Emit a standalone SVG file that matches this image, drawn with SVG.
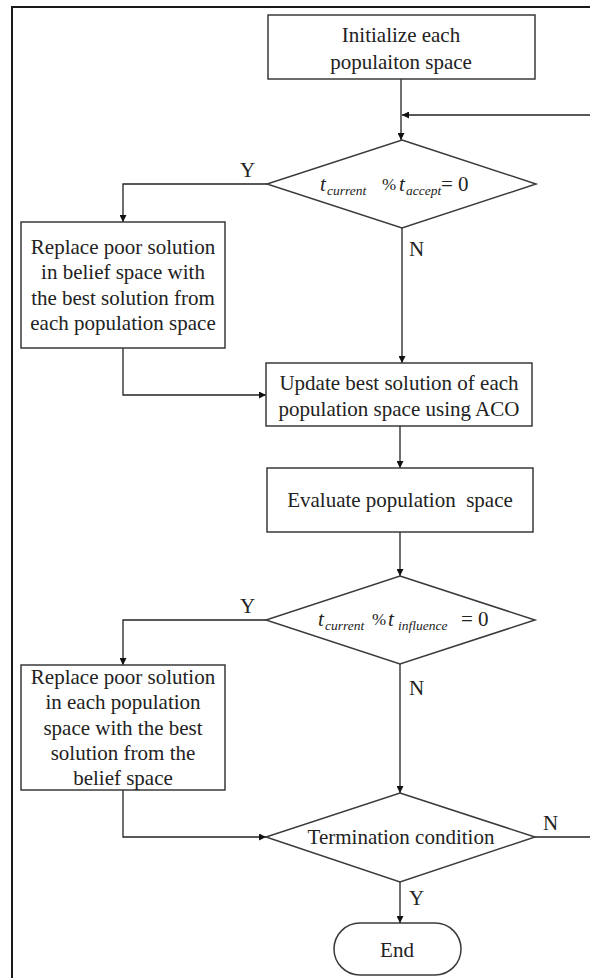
<svg xmlns="http://www.w3.org/2000/svg" width="590" height="978" viewBox="0 0 590 978">
  <defs>
    <marker id="arrow" viewBox="0 0 10 10" refX="10" refY="5" markerWidth="7" markerHeight="7" orient="auto" markerUnits="userSpaceOnUse">
      <path d="M0,0 L10,5 L0,10 z" fill="#111"/>
    </marker>
    <style>
      .box { fill: #fff; stroke: #3a3a3a; stroke-width: 1.5; }
      .wire { fill: none; stroke: #222; stroke-width: 1.3; }
      .lbl { font-family: "Liberation Serif", "Times New Roman", serif; font-size: 21px; fill: #222; }
      .mid { text-anchor: middle; }
      .it { font-style: italic; }
      .pct { font-family: "Liberation Serif", "Times New Roman", serif; font-size: 17px; fill: #222; }
      .sub { font-family: "Liberation Serif", "Times New Roman", serif; font-style: italic; font-size: 13.5px; fill: #222; }
    </style>
  </defs>

  <rect width="590" height="978" fill="#fff"/>

  <!-- frame -->
  <path d="M12,978 V7 H590" fill="none" stroke="#1a1a1a" stroke-width="2"/>

  <!-- connectors -->
  <g id="connectors">
    <path class="wire" d="M401,79 V140" marker-end="url(#arrow)"/>
    <path class="wire" d="M590,115 H402" marker-end="url(#arrow)"/>
    <path class="wire" d="M267,184 H123 V222" marker-end="url(#arrow)"/>
    <path class="wire" d="M402,228 V363" marker-end="url(#arrow)"/>
    <path class="wire" d="M123,348 V395 H266" marker-end="url(#arrow)"/>
    <path class="wire" d="M400,426 V468" marker-end="url(#arrow)"/>
    <path class="wire" d="M400,532 V576" marker-end="url(#arrow)"/>
    <path class="wire" d="M266,620 H123 V665" marker-end="url(#arrow)"/>
    <path class="wire" d="M400,664 V793" marker-end="url(#arrow)"/>
    <path class="wire" d="M123,790 V837 H266" marker-end="url(#arrow)"/>
    <path class="wire" d="M535,837 H590"/>
    <path class="wire" d="M400,882 V923" marker-end="url(#arrow)"/>
    <text class="lbl" x="240" y="177">Y</text>
    <text class="lbl" x="409" y="256">N</text>
    <text class="lbl" x="240" y="613">Y</text>
    <text class="lbl" x="409" y="695">N</text>
    <text class="lbl" x="543" y="830">N</text>
    <text class="lbl" x="409" y="905">Y</text>
  </g>

  <g id="init">
    <rect class="box" x="268" y="15" width="267" height="64"/>
    <text class="lbl mid" x="401" y="42">Initialize each</text>
    <text class="lbl mid" x="401" y="69">populaiton space</text>
  </g>

  <g id="accept-check">
    <polygon class="box" points="402,140 536,184 402,228 267,184"/>
    <text class="lbl it" x="320" y="191" font-size="23">t</text>
    <text class="sub" x="327" y="195">current</text>
    <text class="pct" x="382" y="190">%</text>
    <text class="lbl it" x="399" y="191" font-size="23">t</text>
    <text class="sub" x="406" y="195">accept</text>
    <text class="lbl" x="441" y="191" font-size="23">= 0</text>
  </g>

  <g id="update-belief">
    <rect class="box" x="21" y="222" width="204" height="126"/>
    <text class="lbl mid" x="123" y="254">Replace poor solution</text>
    <text class="lbl mid" x="123" y="279">in belief space with</text>
    <text class="lbl mid" x="123" y="305">the best solution from</text>
    <text class="lbl mid" x="123" y="330">each population space</text>
  </g>

  <g id="aco-update">
    <rect class="box" x="266" y="363" width="266" height="63"/>
    <text class="lbl mid" x="399" y="390">Update best solution of each</text>
    <text class="lbl mid" x="399" y="416">population space using ACO</text>
  </g>

  <g id="evaluate">
    <rect class="box" x="267" y="468" width="266" height="64"/>
    <text class="lbl mid" x="400" y="507" xml:space="preserve">Evaluate population  space</text>
  </g>

  <g id="influence-check">
    <polygon class="box" points="400,576 535,620 400,664 266,620"/>
    <text class="lbl it" x="318" y="626" font-size="23">t</text>
    <text class="sub" x="325" y="630">current</text>
    <text class="pct" x="372" y="625">%</text>
    <text class="lbl it" x="388" y="626" font-size="23">t</text>
    <text class="sub" x="398" y="630">influence</text>
    <text class="lbl" x="461" y="626" font-size="23">= 0</text>
  </g>

  <g id="update-population">
    <rect class="box" x="21" y="665" width="204" height="125"/>
    <text class="lbl mid" x="123" y="684">Replace poor solution</text>
    <text class="lbl mid" x="123" y="709">in each population</text>
    <text class="lbl mid" x="123" y="735">space with the best</text>
    <text class="lbl mid" x="123" y="760">solution from the</text>
    <text class="lbl mid" x="123" y="785">belief space</text>
  </g>

  <g id="termination">
    <polygon class="box" points="400,793 535,837 400,882 266,837"/>
    <text class="lbl mid" x="401" y="844">Termination condition</text>
  </g>

  <g id="end">
    <rect class="box" x="334" y="923" width="127" height="52" rx="26" ry="26"/>
    <text class="lbl mid" x="397" y="957">End</text>
  </g>
</svg>
